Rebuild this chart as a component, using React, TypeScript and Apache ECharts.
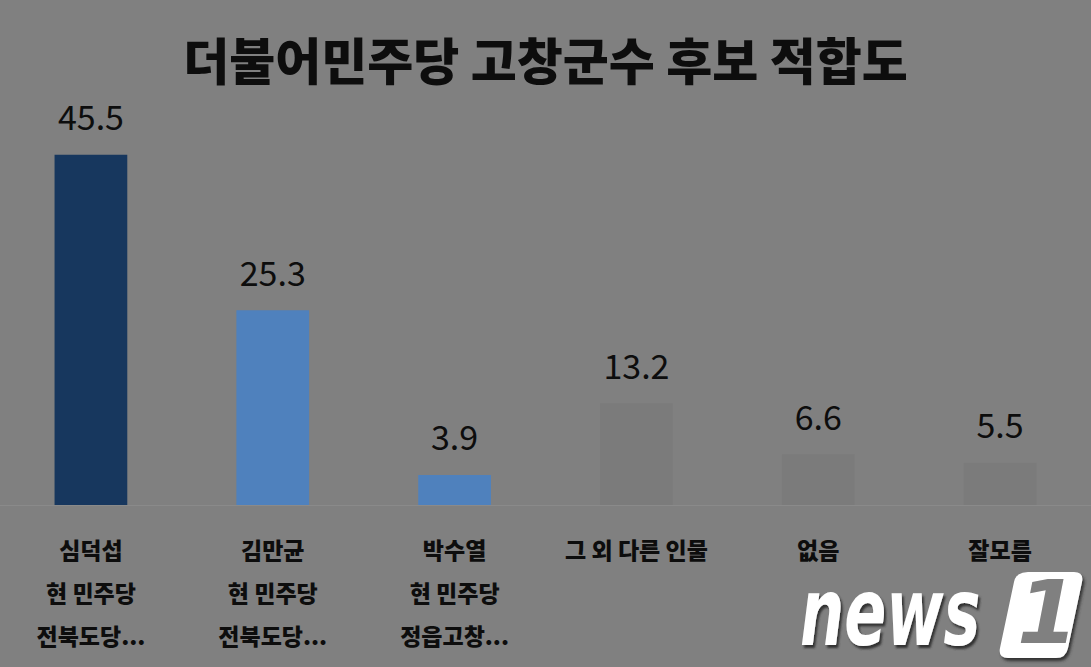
import { useEffect, useRef } from 'react'
import * as echarts from 'echarts'

const TITLE = '더불어민주당 고창군수 후보 적합도'
const categories = [
  '심덕섭\n현 민주당\n전북도당...',
  '김만균\n현 민주당\n전북도당...',
  '박수열\n현 민주당\n정읍고창...',
  '그 외 다른 인물',
  '없음',
  '잘모름',
]
const values = [45.5, 25.3, 3.9, 13.2, 6.6, 5.5]
const barColors = ['#17375e', '#4f81bd', '#4f81bd', '#7b7b7b', '#7b7b7b', '#7b7b7b']

const BG = '#808080'
const FONT = '"Noto Sans CJK KR", "Noto Sans", sans-serif'

// rounded parallelogram behind the "1" of the logo
const LOGO_BOX =
  'M30 0 L76 0 Q86 0 84 10 L70 76 Q68 86 58 86 L10 86 Q0 86 2 76 L16 10 Q18 0 30 0 Z'
echarts.graphic.registerShape('logoBox', echarts.graphic.extendPath(LOGO_BOX, {}) as any)

export default function App() {
  const ref = useRef<HTMLDivElement>(null)

  useEffect(() => {
    if (!ref.current) return
    const chart = echarts.init(ref.current, undefined, { renderer: 'svg' })
    chart.setOption({
      animation: false,
      backgroundColor: BG,
      title: {
        text: TITLE,
        left: 'center',
        top: 28,
        textStyle: { fontFamily: FONT, fontSize: 50, fontWeight: 900, color: '#0d0d0d' },
      },
      grid: { left: 0, right: 0, top: 120, bottom: 162 },
      xAxis: {
        type: 'category',
        data: categories,
        axisLine: { lineStyle: { color: '#8a8a8a', width: 1 } },
        axisTick: { show: false },
        axisLabel: {
          interval: 0,
          margin: 22,
          fontFamily: FONT,
          fontSize: 23,
          fontWeight: 900,
          lineHeight: 43,
          color: '#0d0d0d',
        },
      },
      yAxis: { type: 'value', min: 0, max: 50, show: false, splitLine: { show: false } },
      series: [
        {
          type: 'bar',
          barWidth: '40%',
          data: values.map((v, i) => ({ value: v, itemStyle: { color: barColors[i] } })),
          label: {
            show: true,
            position: 'top',
            distance: 22,
            fontFamily: FONT,
            fontSize: 34,
            color: '#0d0d0d',
          },
        },
      ],
      graphic: [
        {
          type: 'text',
          left: 800,
          top: 566,
          scaleX: 0.66,
          style: {
            text: 'news',
            fontFamily: '"DejaVu Sans", sans-serif',
            fontSize: 94,
            fontWeight: 'bold',
            fontStyle: 'italic',
            fill: '#fff',
            textShadowColor: '#333',
            textShadowBlur: 2,
            textShadowOffsetX: 2,
            textShadowOffsetY: 3,
          },
        },
        {
          type: 'logoBox',
          x: 998,
          y: 572,
          style: { fill: '#fff', shadowColor: '#333', shadowBlur: 3, shadowOffsetX: 2, shadowOffsetY: 3 },
        },
        {
          type: 'text',
          left: 1017,
          top: 568,
          style: {
            text: '1',
            fontFamily: '"DejaVu Sans", sans-serif',
            fontSize: 88,
            fontWeight: 'bold',
            fontStyle: 'italic',
            fill: BG,
          },
        },
      ],
    })
    return () => chart.dispose()
  }, [])

  return (
    <div
      ref={ref}
      style={{ position: 'absolute', left: 0, top: 0, width: 1091, height: 667, background: BG }}
    />
  )
}
